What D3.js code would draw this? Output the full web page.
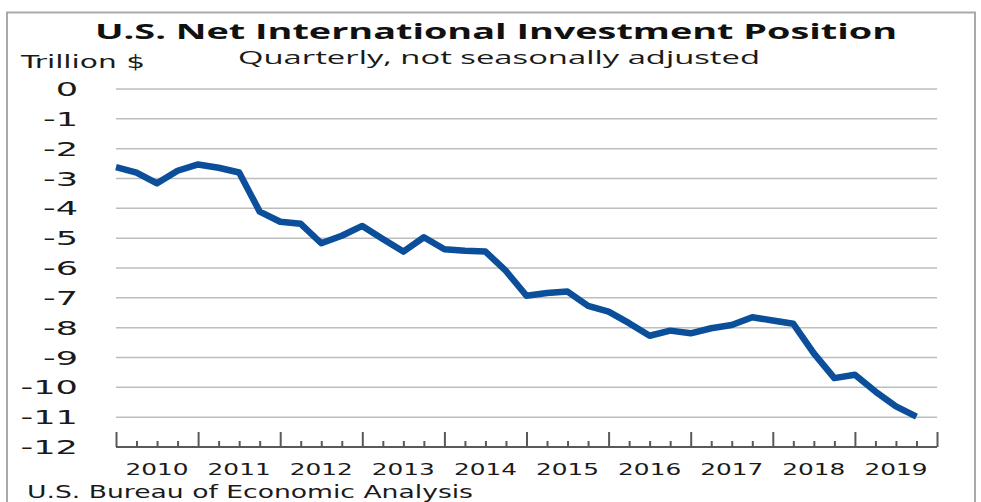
<!DOCTYPE html>
<html>
<head>
<meta charset="utf-8">
<script src="https://cdn.jsdelivr.net/npm/d3@7"></script>
<style>
html,body{margin:0;padding:0;background:#fff;overflow:hidden;}
svg{display:block;}
</style>
</head>
<body>
<script>
// ---- data ----
const years = ["2010","2011","2012","2013","2014","2015","2016","2017","2018","2019"];
const quarters = years.flatMap(y => ["Q1","Q2","Q3","Q4"].map(q => y + q));
const niip = [
  -2.62, -2.80, -3.16, -2.74,
  -2.53, -2.64, -2.80, -4.11,
  -4.45, -4.52, -5.17, -4.92,
  -4.59, -5.03, -5.45, -4.97,
  -5.37, -5.42, -5.45, -6.10,
  -6.93, -6.84, -6.79, -7.27,
  -7.46, -7.85, -8.27, -8.10,
  -8.19, -8.02, -7.91, -7.65,
  -7.76, -7.87, -8.86, -9.69,
  -9.58, -10.14, -10.64, -10.98
];
const yTicks = [0,-1,-2,-3,-4,-5,-6,-7,-8,-9,-10,-11,-12];
const titleText = "U.S. Net International Investment Position";
const subtitleText = "Quarterly, not seasonally adjusted";
const unitText = "Trillion $";
const sourceText = "U.S. Bureau of Economic Analysis";

// ---- layout ----
const W = 981, H = 502;
const svg = d3.select("body").append("svg").attr("width", W).attr("height", H);

const x = d3.scaleLinear().domain([0, quarters.length]).range([116, 937]);
const y = d3.scaleLinear().domain([-12, 0]).range([447, 89]);

// frame
svg.append("rect").attr("x", 7).attr("y", 12.5).attr("width", 968).attr("height", 520)
  .attr("fill", "none").attr("stroke", "#a9a9a9").attr("stroke-width", 2);

// gridlines
svg.append("g").selectAll("line").data(yTicks.filter(d => d > -12)).join("line")
  .attr("x1", x(0)).attr("x2", x(quarters.length))
  .attr("y1", d => y(d)).attr("y2", d => y(d))
  .attr("stroke", "#bdbdbd").attr("stroke-width", 1.5);

// y labels
svg.append("g").selectAll("text").data(yTicks).join("text")
  .attr("transform", d => `translate(78,${y(d) + 7}) scale(1.85,1)`)
  .attr("text-anchor", "end")
  .attr("font-family", "DejaVu Sans, Verdana, sans-serif")
  .attr("font-size", 19).attr("fill", "#1a1a1a")
  .text(d => d === 0 ? "0" : "-" + Math.abs(d));

// x axis
const axisG = svg.append("g").attr("transform", `translate(0,${y(-12)})`);
const tickIdx = d3.range(0, quarters.length + 1);
const xAxis = d3.axisTop(x).tickValues(tickIdx)
  .tickSize(0).tickFormat("");
axisG.call(xAxis);
axisG.select(".domain").attr("stroke", "#595959").attr("stroke-width", 2)
  .attr("d", `M${x(0)},0H${x(quarters.length)}`);
axisG.selectAll(".tick line")
  .attr("y2", d => d % 4 === 0 ? -15 : -6)
  .attr("stroke", "#595959").attr("stroke-width", 2);

// year labels
svg.append("g").selectAll("text").data(years).join("text")
  .attr("transform", (d, i) => `translate(${x(i * 4 + 2)},474.5) scale(1.55,1)`)
  .attr("text-anchor", "middle")
  .attr("font-family", "DejaVu Sans, Verdana, sans-serif")
  .attr("font-size", 16).attr("fill", "#1a1a1a")
  .text(d => d);

// line
const line = d3.line().x((d, i) => x(i)).y(d => y(d));
svg.append("path").datum(niip)
  .attr("d", line)
  .attr("fill", "none").attr("stroke", "#0b4f9a")
  .attr("stroke-width", 6.5).attr("stroke-linejoin", "round").attr("stroke-linecap", "butt");

// titles
svg.append("text").attr("x", 95).attr("y", 39)
  .attr("font-family", "Open Sans, Lato, sans-serif").attr("font-weight", "bold")
  .attr("font-size", 22).attr("fill", "#111")
  .attr("textLength", 802).attr("lengthAdjust", "spacingAndGlyphs")
  .text(titleText);
svg.append("text").attr("x", 238).attr("y", 64)
  .attr("font-family", "Open Sans, Lato, sans-serif")
  .attr("font-size", 18).attr("fill", "#1a1a1a")
  .attr("textLength", 522).attr("lengthAdjust", "spacingAndGlyphs")
  .text(subtitleText);
svg.append("text").attr("x", 21).attr("y", 68)
  .attr("font-family", "DejaVu Sans, Verdana, sans-serif")
  .attr("font-size", 18).attr("fill", "#1a1a1a")
  .attr("textLength", 124).attr("lengthAdjust", "spacingAndGlyphs")
  .text(unitText);
svg.append("text").attr("x", 27).attr("y", 498)
  .attr("font-family", "DejaVu Sans, Verdana, sans-serif")
  .attr("font-size", 18.5).attr("fill", "#1a1a1a")
  .attr("textLength", 446).attr("lengthAdjust", "spacingAndGlyphs")
  .text(sourceText);
</script>
</body>
</html>
